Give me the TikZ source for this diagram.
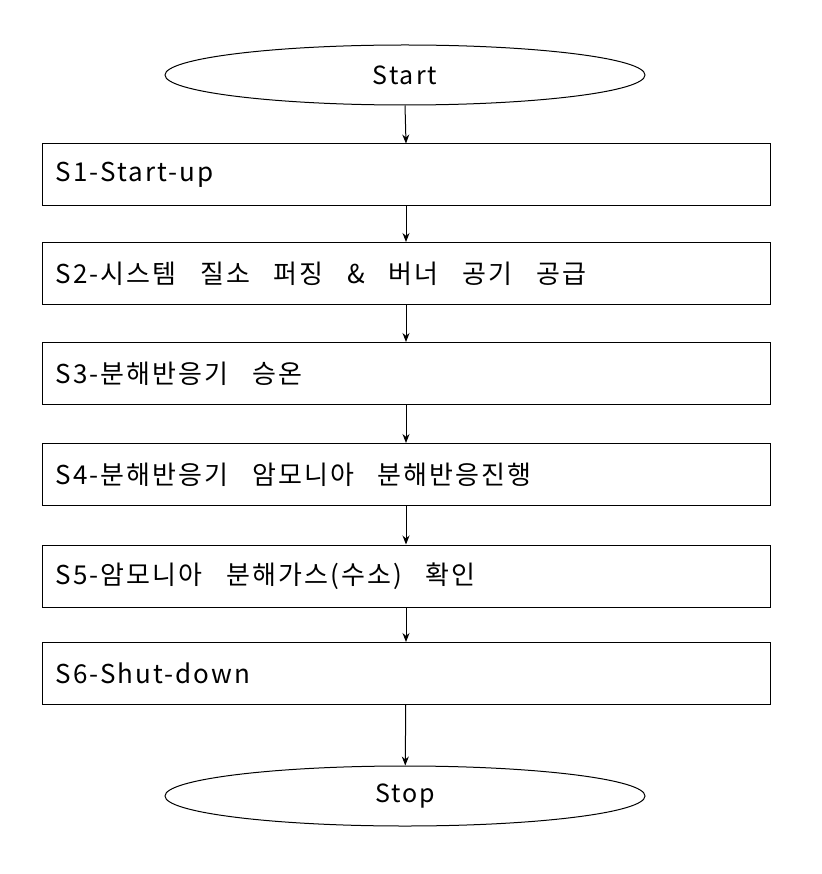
\documentclass[tikz,border=0pt]{standalone}
\usepackage{fontspec}
\setmainfont{Noto Sans CJK KR}[LetterSpace=8,WordSpace=3]
\usetikzlibrary{shapes.geometric,arrows.meta}
\begin{document}
\begin{tikzpicture}[x=1pt,y=-1pt,
  stepbox/.style={draw,line width=1pt,minimum width=728pt,minimum height=62pt,inner sep=0pt},
  term/.style={draw,ellipse,line width=1pt,minimum width=480pt,minimum height=60pt,font=\fontsize{25}{29}\selectfont},
  lbl/.style={anchor=west,font=\fontsize{26}{30}\selectfont},
  arr/.style={-{Stealth[length=9pt,width=7pt]},line width=1pt}]
\useasboundingbox (0,0) rectangle (821,874);
\node[term] (start) at (405,75) {Start};
\node[stepbox] (s1) at (406,175) {};
\node[stepbox] (s2) at (406,273.5) {};
\node[stepbox] (s3) at (406,373.5) {};
\node[stepbox] (s4) at (406,474.5) {};
\node[stepbox] (s5) at (406,576) {};
\node[stepbox] (s6) at (406,673.5) {};
\node[term] (stop) at (405,796) {Stop};
\node[lbl] at (52,175) {S1-Start-up};
\node[lbl] at (52,273.5) {S2-시스템 질소 퍼징 \& 버너 공기 공급};
\node[lbl] at (52,373.5) {S3-분해반응기 승온};
\node[lbl] at (52,474.5) {S4-분해반응기 암모니아 분해반응진행};
\node[lbl] at (52,576) {S5-암모니아 분해가스(수소) 확인};
\node[lbl] at (52,673.5) {S6-Shut-down};
\draw[arr] (start.south) -- (s1.north);
\draw[arr] (s1) -- (s2);
\draw[arr] (s2) -- (s3);
\draw[arr] (s3) -- (s4);
\draw[arr] (s4) -- (s5);
\draw[arr] (s5) -- (s6);
\draw[arr] (s6) -- (stop);
\end{tikzpicture}
\end{document}
